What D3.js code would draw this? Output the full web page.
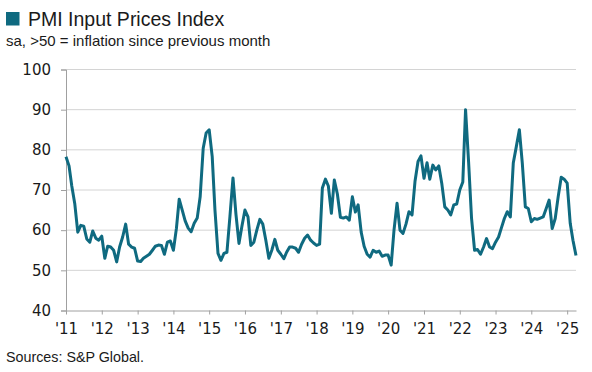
<!DOCTYPE html>
<html>
<head>
<meta charset="utf-8">
<script src="https://cdn.jsdelivr.net/npm/d3@7"></script>
<style>
  body { margin: 0; background: #fff; }
  svg { font-family: Arial, "Liberation Sans", sans-serif; }
  .axis text { font-family: "DejaVu Sans", Verdana, sans-serif; font-size: 15px; fill: #1a1a1a; }
</style>
</head>
<body>
<svg width="592" height="372"></svg>
<script>
// monthly readings, first one is Jan 2011
const startMonth = "2011-01";
const inputPrices = [
  78.3, 76.0, 71.0, 66.5, 59.5, 61.2, 61.0, 57.8, 57.0, 59.8, 58.0, 57.5, // 2011
  58.5, 53.0, 56.0, 55.8, 55.0, 52.1, 55.8, 58.3, 61.5, 56.5, 55.8, 55.5, // 2012
  52.3, 52.2, 53.0, 53.5, 54.0, 55.0, 56.0, 56.3, 56.2, 54.0, 57.0, 57.3, // 2013
  55.0, 60.5, 67.7, 65.0, 62.3, 60.5, 59.6, 61.7, 63.0, 68.3, 80.4, 84.2, // 2014
  85.0, 78.3, 65.0, 54.2, 52.5, 54.2, 54.5, 63.5, 73.0, 64.0, 56.7, 61.0, // 2015
  65.0, 63.3, 56.2, 57.0, 60.0, 62.7, 61.5, 57.5, 53.0, 55.0, 57.7, 55.0, // 2016
  54.0, 52.9, 54.5, 55.8, 55.8, 55.5, 54.5, 56.5, 58.0, 58.8, 57.5, 56.8, // 2017
  56.2, 56.5, 70.5, 72.7, 71.0, 64.2, 72.5, 69.0, 63.2, 63.0, 63.3, 62.5, // 2018
  68.3, 64.5, 66.3, 59.5, 56.0, 54.0, 53.3, 55.0, 54.5, 54.8, 53.5, 53.8, // 2019
  53.8, 51.3, 60.0, 66.7, 60.0, 59.2, 61.5, 64.6, 63.8, 72.1, 77.1, 78.5, // 2020
  72.9, 76.8, 72.7, 76.2, 75.0, 76.0, 71.7, 65.8, 65.0, 63.8, 66.3, 66.5, // 2021
  70.0, 72.0, 90.0, 77.0, 63.0, 55.0, 55.2, 54.0, 55.8, 57.9, 55.8, 55.4, // 2022
  57.0, 58.3, 60.5, 62.9, 64.6, 63.3, 76.7, 80.8, 85.0, 76.7, 65.8, 65.4, // 2023
  62.1, 62.9, 62.7, 63.0, 63.3, 65.4, 67.5, 60.4, 62.9, 68.3, 73.2, 72.7, // 2024
  71.7, 61.7, 57.5, 53.7                                                  // 2025
];
const tickYears = [2011, 2012, 2013, 2014, 2015, 2016, 2017, 2018, 2019, 2020, 2021, 2022, 2023, 2024, 2025];
const yTicks = [40, 50, 60, 70, 80, 90, 100];

const teal = "#0f6a80";
const parseMonth = d3.timeParse("%Y-%m");
const first = parseMonth(startMonth);
const data = inputPrices.map((v, i) => ({ date: d3.timeMonth.offset(first, i), value: v }));

const svg = d3.select("svg");
const margin = { top: 69.5, right: 16, bottom: 61.5, left: 66 };
const width = +svg.attr("width");
const height = +svg.attr("height");
const innerWidth = width - margin.left - margin.right;
const innerHeight = height - margin.top - margin.bottom;

const x = d3.scaleTime()
  .domain(d3.extent(data, d => d.date))
  .range([0, innerWidth]);
const y = d3.scaleLinear()
  .domain([40, 100])
  .range([innerHeight, 0]);

const g = svg.append("g").attr("transform", `translate(${margin.left},${margin.top})`);

// horizontal gridlines
g.append("g")
  .selectAll("line")
  .data(yTicks.filter(t => t > 40))
  .join("line")
  .attr("x1", 0).attr("x2", innerWidth)
  .attr("y1", d => y(d)).attr("y2", d => y(d))
  .attr("stroke", "#d4d4d4")
  .attr("stroke-width", 1);

// y axis
const yAxis = g.append("g")
  .attr("class", "axis")
  .call(d3.axisLeft(y).tickValues(yTicks).tickSize(5).tickPadding(10));
yAxis.select(".domain").attr("stroke", "#a0a0a0");
yAxis.selectAll(".tick line").attr("stroke", "#a0a0a0");

// x axis, a tick on each January
const xAxis = g.append("g")
  .attr("class", "axis")
  .attr("transform", `translate(0,${innerHeight})`)
  .call(d3.axisBottom(x)
    .tickValues(tickYears.map(yr => new Date(yr, 0, 1)))
    .tickFormat(d => "'" + String(d.getFullYear()).slice(2))
    .tickSize(4).tickSizeOuter(0).tickPadding(9));
xAxis.select(".domain").attr("stroke", "#a0a0a0");
xAxis.selectAll(".tick line").attr("stroke", "#a0a0a0");

// the series line
g.append("path")
  .datum(data)
  .attr("fill", "none")
  .attr("stroke", teal)
  .attr("stroke-width", 3)
  .attr("stroke-linejoin", "round")
  .attr("d", d3.line().x(d => x(d.date)).y(d => y(d.value)));

// title with legend square
svg.append("rect")
  .attr("x", 6).attr("y", 12)
  .attr("width", 13.5).attr("height", 13.5)
  .attr("fill", teal);
svg.append("text")
  .attr("x", 28).attr("y", 25.5)
  .attr("font-size", 19.5)
  .attr("fill", "#1a1a1a")
  .text("PMI Input Prices Index");
svg.append("text")
  .attr("x", 6).attr("y", 45.5)
  .attr("font-size", 15)
  .attr("fill", "#1a1a1a")
  .text("sa, >50 = inflation since previous month");

// source note
svg.append("text")
  .attr("x", 6).attr("y", 362)
  .attr("font-size", 14.3)
  .attr("fill", "#1a1a1a")
  .text("Sources: S&P Global.");
</script>
</body>
</html>
